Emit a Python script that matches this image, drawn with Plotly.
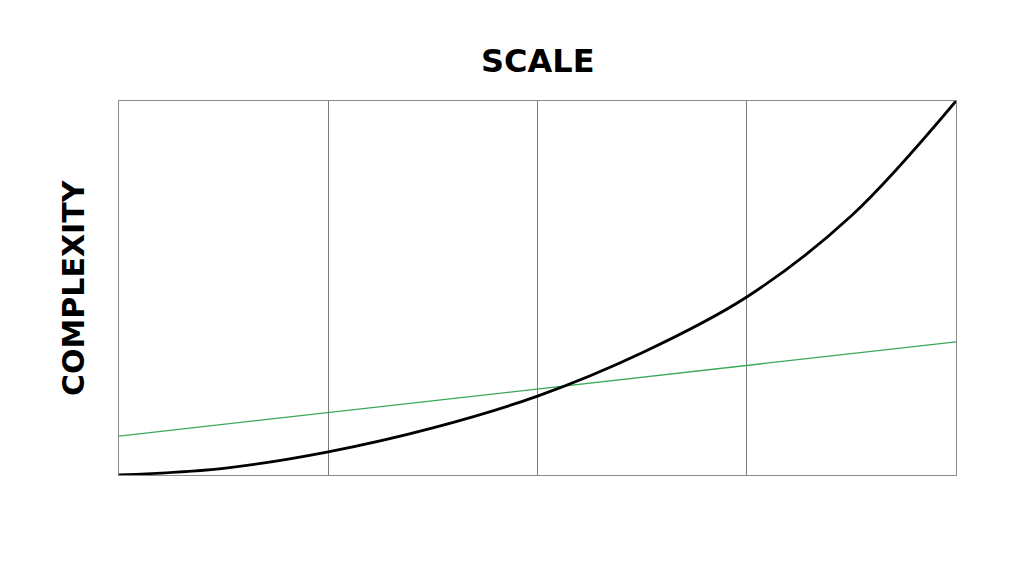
import plotly.graph_objects as go

# Data
scale = [0, 0.5, 1, 1.5, 2, 2.5, 3, 3.5, 4]
complexity_curve = [0, 0.018, 0.062, 0.126, 0.211, 0.327, 0.476, 0.693, 1.0]
linear_x = [0, 4]
linear_y = [0.104, 0.356]
grid_ticks = [1, 2, 3]
x_title = "SCALE"
y_title = "COMPLEXITY"

fig = go.Figure()
fig.add_trace(go.Scatter(x=linear_x, y=linear_y, mode="lines",
                         line=dict(color="#3aa85a", width=1.3),
                         hoverinfo="skip", showlegend=False))
fig.add_trace(go.Scatter(x=scale, y=complexity_curve, mode="lines",
                         line=dict(color="#000000", width=2.8, shape="spline", smoothing=1.0),
                         hoverinfo="skip", showlegend=False))

fig.update_layout(
    width=1024, height=576,
    margin=dict(l=111, r=76, t=93, b=109),
    paper_bgcolor="white", plot_bgcolor="white",
    xaxis=dict(range=[0, 4], tickvals=grid_ticks, showticklabels=False,
               showgrid=True, gridcolor="#7a7a7a", gridwidth=1,
               zeroline=False, showline=True, linecolor="#8a8a8a", linewidth=1,
               mirror=True, ticks=""),
    yaxis=dict(range=[0, 1], showticklabels=False, showgrid=False,
               zeroline=False, showline=True, linecolor="#8a8a8a", linewidth=1,
               mirror=True, ticks=""),
    annotations=[
        dict(text="<b>" + x_title + "</b>", xref="paper", yref="paper",
             x=0.5, y=1.0, yshift=40, showarrow=False,
             font=dict(family="DejaVu Sans", size=32, color="#000000"),
             xanchor="center", yanchor="middle"),
        dict(text="<b>" + y_title + "</b>", xref="paper", yref="paper",
             x=0.0, y=0.5, xshift=-46, showarrow=False, textangle=-90,
             font=dict(family="DejaVu Sans", size=30, color="#000000"),
             xanchor="center", yanchor="middle"),
    ],
)

fig.write_html("out.html")
